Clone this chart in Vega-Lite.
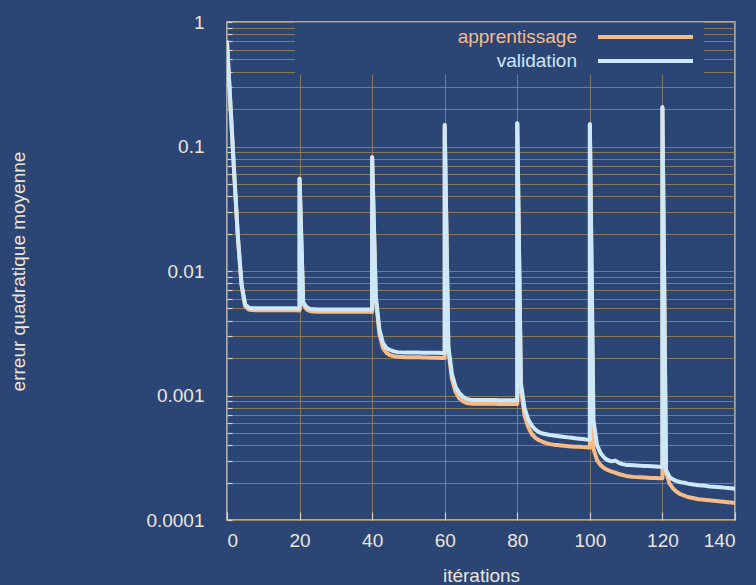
{
  "$schema": "https://vega.github.io/schema/vega-lite/v6.json",
  "width": 508,
  "height": 498,
  "autosize": {"type": "none"},
  "padding": {"left": 227, "top": 22, "right": 21, "bottom": 65},
  "background": "#2b4575",
  "config": {
    "view": {"stroke": "#d2cbbd", "strokeWidth": 1.5},
    "font": "Liberation Sans",
    "axis": {
      "domain": false,
      "grid": true,
      "gridColor": "#95825a",
      "gridOpacity": 0.85,
      "gridWidth": 1,
      "labelFont": "Liberation Sans",
      "labelFontSize": 19,
      "labelColor": "#ebe6dc",
      "titleFont": "Liberation Sans",
      "titleFontSize": 19,
      "titleFontWeight": "normal",
      "titleColor": "#ebe6dc",
      "tickColor": "#d8d2c4",
      "tickWidth": 1.2
    }
  },
  "data": {
    "values": [
      {"i": 0, "x": 0, "apprentissage": 0.69, "validation": 0.69},
      {"i": 1, "x": 1, "apprentissage": 0.2, "validation": 0.204},
      {"i": 2, "x": 2, "apprentissage": 0.059, "validation": 0.06},
      {"i": 3, "x": 3, "apprentissage": 0.0185, "validation": 0.019},
      {"i": 4, "x": 4, "apprentissage": 0.0077, "validation": 0.0079},
      {"i": 5, "x": 5, "apprentissage": 0.0052, "validation": 0.0054},
      {"i": 6, "x": 6, "apprentissage": 0.0049, "validation": 0.00507},
      {"i": 7, "x": 7, "apprentissage": 0.00485, "validation": 0.00503},
      {"i": 8, "x": 8, "apprentissage": 0.00484, "validation": 0.00502},
      {"i": 9, "x": 9, "apprentissage": 0.00484, "validation": 0.00502},
      {"i": 10, "x": 10, "apprentissage": 0.00483, "validation": 0.00501},
      {"i": 11, "x": 11, "apprentissage": 0.00483, "validation": 0.00501},
      {"i": 12, "x": 12, "apprentissage": 0.00483, "validation": 0.00501},
      {"i": 13, "x": 13, "apprentissage": 0.00483, "validation": 0.00501},
      {"i": 14, "x": 14, "apprentissage": 0.00483, "validation": 0.00501},
      {"i": 15, "x": 15, "apprentissage": 0.00483, "validation": 0.00501},
      {"i": 16, "x": 16, "apprentissage": 0.00483, "validation": 0.00501},
      {"i": 17, "x": 17, "apprentissage": 0.00483, "validation": 0.00501},
      {"i": 18, "x": 18, "apprentissage": 0.00483, "validation": 0.00501},
      {"i": 19, "x": 19, "apprentissage": 0.00483, "validation": 0.00501},
      {"i": 20, "x": 20, "apprentissage": 0.00482, "validation": 0.005},
      {"i": 21, "x": 20, "apprentissage": 0.055, "validation": 0.055},
      {"i": 22, "x": 21, "apprentissage": 0.0054, "validation": 0.0056},
      {"i": 23, "x": 22, "apprentissage": 0.0049, "validation": 0.0051},
      {"i": 24, "x": 23, "apprentissage": 0.00475, "validation": 0.00495},
      {"i": 25, "x": 24, "apprentissage": 0.00472, "validation": 0.00493},
      {"i": 26, "x": 25, "apprentissage": 0.0047, "validation": 0.0049},
      {"i": 27, "x": 26, "apprentissage": 0.0047, "validation": 0.0049},
      {"i": 28, "x": 27, "apprentissage": 0.0047, "validation": 0.0049},
      {"i": 29, "x": 28, "apprentissage": 0.0047, "validation": 0.0049},
      {"i": 30, "x": 29, "apprentissage": 0.0047, "validation": 0.0049},
      {"i": 31, "x": 30, "apprentissage": 0.0047, "validation": 0.0049},
      {"i": 32, "x": 31, "apprentissage": 0.0047, "validation": 0.0049},
      {"i": 33, "x": 32, "apprentissage": 0.0047, "validation": 0.0049},
      {"i": 34, "x": 33, "apprentissage": 0.0047, "validation": 0.0049},
      {"i": 35, "x": 34, "apprentissage": 0.0047, "validation": 0.0049},
      {"i": 36, "x": 35, "apprentissage": 0.0047, "validation": 0.0049},
      {"i": 37, "x": 36, "apprentissage": 0.0047, "validation": 0.0049},
      {"i": 38, "x": 37, "apprentissage": 0.0047, "validation": 0.0049},
      {"i": 39, "x": 38, "apprentissage": 0.0047, "validation": 0.0049},
      {"i": 40, "x": 39, "apprentissage": 0.0047, "validation": 0.0049},
      {"i": 41, "x": 40, "apprentissage": 0.00469, "validation": 0.00489},
      {"i": 42, "x": 40, "apprentissage": 0.082, "validation": 0.082},
      {"i": 43, "x": 41, "apprentissage": 0.006, "validation": 0.0063},
      {"i": 44, "x": 42, "apprentissage": 0.0031, "validation": 0.0034},
      {"i": 45, "x": 43, "apprentissage": 0.0024, "validation": 0.00263},
      {"i": 46, "x": 44, "apprentissage": 0.00219, "validation": 0.0024},
      {"i": 47, "x": 45, "apprentissage": 0.00211, "validation": 0.00232},
      {"i": 48, "x": 46, "apprentissage": 0.00207, "validation": 0.00226},
      {"i": 49, "x": 47, "apprentissage": 0.00205, "validation": 0.00223},
      {"i": 50, "x": 48, "apprentissage": 0.00204, "validation": 0.00222},
      {"i": 51, "x": 49, "apprentissage": 0.00203, "validation": 0.00221},
      {"i": 52, "x": 50, "apprentissage": 0.00203, "validation": 0.00221},
      {"i": 53, "x": 51, "apprentissage": 0.00203, "validation": 0.00221},
      {"i": 54, "x": 52, "apprentissage": 0.00203, "validation": 0.00221},
      {"i": 55, "x": 53, "apprentissage": 0.00203, "validation": 0.00221},
      {"i": 56, "x": 54, "apprentissage": 0.00202, "validation": 0.0022},
      {"i": 57, "x": 55, "apprentissage": 0.00202, "validation": 0.0022},
      {"i": 58, "x": 56, "apprentissage": 0.00201, "validation": 0.0022},
      {"i": 59, "x": 57, "apprentissage": 0.00201, "validation": 0.0022},
      {"i": 60, "x": 58, "apprentissage": 0.00201, "validation": 0.0022},
      {"i": 61, "x": 59, "apprentissage": 0.002, "validation": 0.00219},
      {"i": 62, "x": 60, "apprentissage": 0.002, "validation": 0.00219},
      {"i": 63, "x": 60, "apprentissage": 0.149, "validation": 0.149},
      {"i": 64, "x": 61, "apprentissage": 0.0023, "validation": 0.0025},
      {"i": 65, "x": 62, "apprentissage": 0.00135, "validation": 0.00148},
      {"i": 66, "x": 63, "apprentissage": 0.00107, "validation": 0.00117},
      {"i": 67, "x": 64, "apprentissage": 0.00095, "validation": 0.00105},
      {"i": 68, "x": 65, "apprentissage": 0.0009, "validation": 0.00098},
      {"i": 69, "x": 66, "apprentissage": 0.00087, "validation": 0.00094},
      {"i": 70, "x": 67, "apprentissage": 0.000862, "validation": 0.000925},
      {"i": 71, "x": 68, "apprentissage": 0.000858, "validation": 0.00092},
      {"i": 72, "x": 69, "apprentissage": 0.000858, "validation": 0.00092},
      {"i": 73, "x": 70, "apprentissage": 0.000858, "validation": 0.00092},
      {"i": 74, "x": 71, "apprentissage": 0.000858, "validation": 0.00092},
      {"i": 75, "x": 72, "apprentissage": 0.000858, "validation": 0.00092},
      {"i": 76, "x": 73, "apprentissage": 0.000858, "validation": 0.00092},
      {"i": 77, "x": 74, "apprentissage": 0.000858, "validation": 0.00092},
      {"i": 78, "x": 75, "apprentissage": 0.000855, "validation": 0.000917},
      {"i": 79, "x": 76, "apprentissage": 0.000855, "validation": 0.000917},
      {"i": 80, "x": 77, "apprentissage": 0.000855, "validation": 0.000917},
      {"i": 81, "x": 78, "apprentissage": 0.000855, "validation": 0.000917},
      {"i": 82, "x": 79, "apprentissage": 0.000855, "validation": 0.000917},
      {"i": 83, "x": 80, "apprentissage": 0.000855, "validation": 0.000917},
      {"i": 84, "x": 80, "apprentissage": 0.154, "validation": 0.154},
      {"i": 85, "x": 81, "apprentissage": 0.00112, "validation": 0.00126},
      {"i": 86, "x": 82, "apprentissage": 0.00069, "validation": 0.00079},
      {"i": 87, "x": 83, "apprentissage": 0.00056, "validation": 0.000646},
      {"i": 88, "x": 84, "apprentissage": 0.00049, "validation": 0.000575},
      {"i": 89, "x": 85, "apprentissage": 0.000457, "validation": 0.000531},
      {"i": 90, "x": 86, "apprentissage": 0.000437, "validation": 0.000507},
      {"i": 91, "x": 87, "apprentissage": 0.000425, "validation": 0.000495},
      {"i": 92, "x": 88, "apprentissage": 0.000415, "validation": 0.000488},
      {"i": 93, "x": 89, "apprentissage": 0.000407, "validation": 0.000481},
      {"i": 94, "x": 90, "apprentissage": 0.000403, "validation": 0.000477},
      {"i": 95, "x": 91, "apprentissage": 0.0004, "validation": 0.000473},
      {"i": 96, "x": 92, "apprentissage": 0.000397, "validation": 0.000469},
      {"i": 97, "x": 93, "apprentissage": 0.000394, "validation": 0.000465},
      {"i": 98, "x": 94, "apprentissage": 0.000392, "validation": 0.000461},
      {"i": 99, "x": 95, "apprentissage": 0.00039, "validation": 0.000457},
      {"i": 100, "x": 96, "apprentissage": 0.000388, "validation": 0.000453},
      {"i": 101, "x": 97, "apprentissage": 0.000387, "validation": 0.00045},
      {"i": 102, "x": 98, "apprentissage": 0.000385, "validation": 0.000447},
      {"i": 103, "x": 99, "apprentissage": 0.000384, "validation": 0.000444},
      {"i": 104, "x": 100, "apprentissage": 0.000383, "validation": 0.000442},
      {"i": 105, "x": 100, "apprentissage": 0.151, "validation": 0.151},
      {"i": 106, "x": 101, "apprentissage": 0.000372, "validation": 0.00063},
      {"i": 107, "x": 102, "apprentissage": 0.000302, "validation": 0.000398},
      {"i": 108, "x": 103, "apprentissage": 0.000275, "validation": 0.000343},
      {"i": 109, "x": 104, "apprentissage": 0.00026, "validation": 0.000316},
      {"i": 110, "x": 105, "apprentissage": 0.000251, "validation": 0.000302},
      {"i": 111, "x": 106, "apprentissage": 0.000245, "validation": 0.000296},
      {"i": 112, "x": 107, "apprentissage": 0.00024, "validation": 0.0003},
      {"i": 113, "x": 108, "apprentissage": 0.000234, "validation": 0.000288},
      {"i": 114, "x": 109, "apprentissage": 0.00023, "validation": 0.000281},
      {"i": 115, "x": 110, "apprentissage": 0.000226, "validation": 0.000277},
      {"i": 116, "x": 111, "apprentissage": 0.000224, "validation": 0.000276},
      {"i": 117, "x": 112, "apprentissage": 0.000222, "validation": 0.000275},
      {"i": 118, "x": 113, "apprentissage": 0.000221, "validation": 0.000274},
      {"i": 119, "x": 114, "apprentissage": 0.00022, "validation": 0.000273},
      {"i": 120, "x": 115, "apprentissage": 0.000219, "validation": 0.000272},
      {"i": 121, "x": 116, "apprentissage": 0.000218, "validation": 0.000271},
      {"i": 122, "x": 117, "apprentissage": 0.000217, "validation": 0.00027},
      {"i": 123, "x": 118, "apprentissage": 0.000217, "validation": 0.000269},
      {"i": 124, "x": 119, "apprentissage": 0.000216, "validation": 0.000268},
      {"i": 125, "x": 120, "apprentissage": 0.000216, "validation": 0.000268},
      {"i": 126, "x": 120, "apprentissage": 0.207, "validation": 0.207},
      {"i": 127, "x": 121, "apprentissage": 0.00024, "validation": 0.000251},
      {"i": 128, "x": 122, "apprentissage": 0.000195, "validation": 0.000221},
      {"i": 129, "x": 123, "apprentissage": 0.000178, "validation": 0.000211},
      {"i": 130, "x": 124, "apprentissage": 0.000168, "validation": 0.000205},
      {"i": 131, "x": 125, "apprentissage": 0.000161, "validation": 0.000201},
      {"i": 132, "x": 126, "apprentissage": 0.000157, "validation": 0.000199},
      {"i": 133, "x": 127, "apprentissage": 0.000153, "validation": 0.000196},
      {"i": 134, "x": 128, "apprentissage": 0.000151, "validation": 0.000194},
      {"i": 135, "x": 129, "apprentissage": 0.000149, "validation": 0.000192},
      {"i": 136, "x": 130, "apprentissage": 0.000147, "validation": 0.00019},
      {"i": 137, "x": 131, "apprentissage": 0.000146, "validation": 0.000189},
      {"i": 138, "x": 132, "apprentissage": 0.000145, "validation": 0.000188},
      {"i": 139, "x": 133, "apprentissage": 0.000144, "validation": 0.000186},
      {"i": 140, "x": 134, "apprentissage": 0.000143, "validation": 0.000185},
      {"i": 141, "x": 135, "apprentissage": 0.000142, "validation": 0.000184},
      {"i": 142, "x": 136, "apprentissage": 0.000141, "validation": 0.000183},
      {"i": 143, "x": 137, "apprentissage": 0.00014, "validation": 0.000182},
      {"i": 144, "x": 138, "apprentissage": 0.000139, "validation": 0.000181},
      {"i": 145, "x": 139, "apprentissage": 0.000138, "validation": 0.00018},
      {"i": 146, "x": 140, "apprentissage": 0.000137, "validation": 0.000178}
    ]
  },
  "transform": [
    {"fold": ["apprentissage", "validation"], "as": ["serie", "erreur"]}
  ],
  "mark": {"type": "line", "strokeWidth": 4, "strokeJoin": "round", "strokeCap": "round", "clip": true},
  "encoding": {
    "x": {
      "field": "x",
      "type": "quantitative",
      "title": "itérations",
      "scale": {"domain": [0, 140], "nice": false, "zero": false},
      "axis": {
        "values": [0, 20, 40, 60, 80, 100, 120, 140],
        "tickSize": -8,
        "labelPadding": 19,
        "titleY": 55,
        "titleBaseline": "middle"
      }
    },
    "y": {
      "field": "erreur",
      "type": "quantitative",
      "title": "erreur quadratique moyenne",
      "scale": {"type": "log", "domain": [0.0001, 1], "nice": false},
      "axis": {
        "values": [0.0001, 0.0002, 0.0003, 0.0004, 0.0005, 0.0006, 0.0007, 0.0008, 0.0009, 0.001, 0.002, 0.003, 0.004, 0.005, 0.006, 0.007, 0.008, 0.009, 0.01, 0.02, 0.03, 0.04, 0.05, 0.06, 0.07, 0.08, 0.09, 0.1, 0.2, 0.3, 0.4, 0.5, 0.6, 0.7, 0.8, 0.9, 1],
        "labelExpr": "datum.value == 1 ? '1' : datum.value == 0.1 ? '0.1' : datum.value == 0.01 ? '0.01' : datum.value == 0.001 ? '0.001' : datum.value == 0.0001 ? '0.0001' : ''",
        "tickSize": -5,
        "labelPadding": 28,
        "labelBaseline": "middle",
        "titleX": -209,
        "titleBaseline": "middle"
      }
    },
    "color": {
      "field": "serie",
      "type": "nominal",
      "scale": {"domain": ["apprentissage", "validation"], "range": ["#f9bb85", "#cde8f8"]},
      "legend": {
        "orient": "none",
        "legendX": 68,
        "legendY": 0.5,
        "title": null,
        "padding": 3,
        "fillColor": "#2b4575",
        "rowPadding": 2,
        "symbolType": "M-5,0H5",
        "symbolSize": 361,
        "symbolStrokeWidth": 4,
        "labelAlign": "right",
        "labelFont": "Liberation Sans",
        "labelFontSize": 19,
        "labelLimit": 0,
        "encode": {
          "symbols": {"update": {"x": {"value": 347.5}}},
          "labels": {"update": {"x": {"value": 279}, "fill": {"scale": "color", "field": "value"}}}
        }
      }
    },
    "order": {"field": "i", "type": "quantitative"}
  }
}
